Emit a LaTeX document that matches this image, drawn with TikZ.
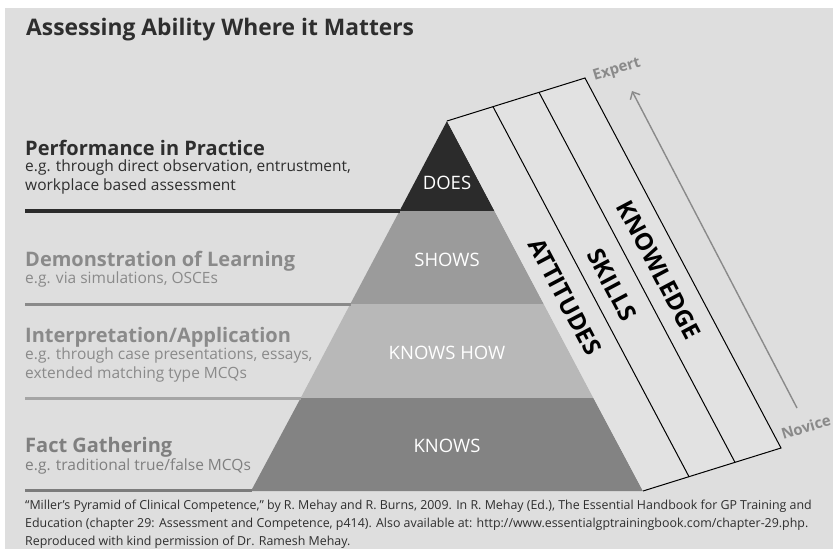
\documentclass[tikz,border=0pt]{standalone}
\usepackage{fontspec}
\setmainfont{Open Sans}
\newfontfamily\notefont{Open Sans}
\usetikzlibrary{arrows.meta}

\definecolor{bggray}{HTML}{DEDEDE}
\definecolor{slabgray}{HTML}{E2E2E2}
\definecolor{doesgray}{HTML}{2B2B2B}
\definecolor{showsgray}{HTML}{9B9B9B}
\definecolor{howgray}{HTML}{B8B8B8}
\definecolor{knowsgray}{HTML}{838383}
\definecolor{labelgray}{HTML}{8A8A8A}
\definecolor{darktext}{HTML}{2E2E2E}

\begin{document}
\begin{tikzpicture}[x=1pt,y=-1pt,
  heading/.style={anchor=base west,inner sep=0pt,font=\bfseries\fontsize{20}{20}\selectfont},
  example/.style={anchor=base west,inner sep=0pt,align=left,font=\fontsize{15.5}{19}\selectfont},
  level/.style={text=white,inner sep=0pt,font=\fontsize{18.5}{18.5}\selectfont},
  strip/.style={rotate=-62.1,inner sep=0pt,font=\bfseries\fontsize{24}{24}\selectfont},
  endlabel/.style={text=labelgray,rotate=17,inner sep=0pt,font=\bfseries\fontsize{15}{15}\selectfont}]
\useasboundingbox (0,0) rectangle (833,549);
\fill[white] (0,0) rectangle (833,549);
\fill[bggray] (5,8) rectangle (833,549);

\node[anchor=base west,inner sep=0pt,text=darktext,font=\bfseries\fontsize{22.8}{22.8}\selectfont] (title) at (26,35) {Assessing Ability Where it Matters};

\fill[doesgray] (447,121) -- (494.5,211) -- (399.5,211) -- cycle;
\fill[showsgray] (399.5,211) -- (494.5,211) -- (543.7,304) -- (350.3,304) -- cycle;
\fill[howgray] (350.3,304) -- (543.7,304) -- (593.3,398) -- (300.7,398) -- cycle;
\fill[knowsgray] (300.7,398) -- (593.3,398) -- (643,491) -- (251,491) -- cycle;

\draw[doesgray,line width=3.5pt] (25,211) -- (400,211);
\draw[labelgray,line width=3pt] (25,304) -- (351,304);
\draw[howgray!90!black,line width=3pt] (25,398) -- (301,398);
\draw[knowsgray!95!black,line width=3pt] (25,490) -- (252,490);

\node[level] (does) at (447,183) {DOES};
\node[level] (shows) at (447,260) {SHOWS};
\node[level] (knowshow) at (447,353) {KNOWS HOW};
\node[level] (knows) at (447,446) {KNOWS};

\node[heading,text=darktext] (perf) at (25,155) {Performance in Practice};
\node[example,text=darktext] (perfex) at (25,190) {e.g. through direct observation, entrustment,\\workplace based assessment};
\node[heading,text=labelgray] (demo) at (25,266) {Demonstration of Learning};
\node[example,text=labelgray] (demoex) at (25,283) {e.g. via simulations, OSCEs};
\node[heading,text=labelgray] (interp) at (25,342) {Interpretation/Application};
\node[example,text=labelgray] (interpex) at (25,378) {e.g. through case presentations, essays,\\extended matching type MCQs};
\node[heading,text=labelgray!92!black] (fact) at (25,452) {Fact Gathering};
\node[example,text=labelgray!92!black] (factex) at (25,470) {e.g. traditional true/false MCQs};

\fill[slabgray] (447,121) -- (585,78) -- (781,448) -- (643,491) -- cycle;
\draw[line width=1pt] (447,121) -- (585,78) -- (781,448) -- (643,491);
\draw[line width=1pt] (493,106.7) -- (689,476.7);
\draw[line width=1pt] (539,92.3) -- (735,462.3);

\node[strip] (attitudes) at (565,297) {ATTITUDES};
\node[strip] (skills) at (612,284.5) {SKILLS};
\node[strip] (knowledge) at (659,270) {KNOWLEDGE};

\coordinate (novicept) at (797,408);
\coordinate (expertpt) at (632,91);
\draw[labelgray,line width=1.4pt,-{Straight Barb[length=6pt,width=11pt]}] (novicept) -- (expertpt);
\node[endlabel] (expert) at (617,70) {Expert};
\node[endlabel] (novice) at (806,427) {Novice};

\node[anchor=base west,inner sep=0pt,align=left,text=darktext,font=\notefont\fontsize{12.4}{18}\selectfont] (note) at (25,545)
  {“Miller’s Pyramid of Clinical Competence,” by R. Mehay and R. Burns, 2009. In R. Mehay (Ed.), The Essential Handbook for GP Training and\\
   Education (chapter 29: Assessment and Competence, p414). Also available at: http://www.essentialgptrainingbook.com/chapter-29.php.\\
   Reproduced with kind permission of Dr. Ramesh Mehay.};
\end{tikzpicture}
\end{document}
